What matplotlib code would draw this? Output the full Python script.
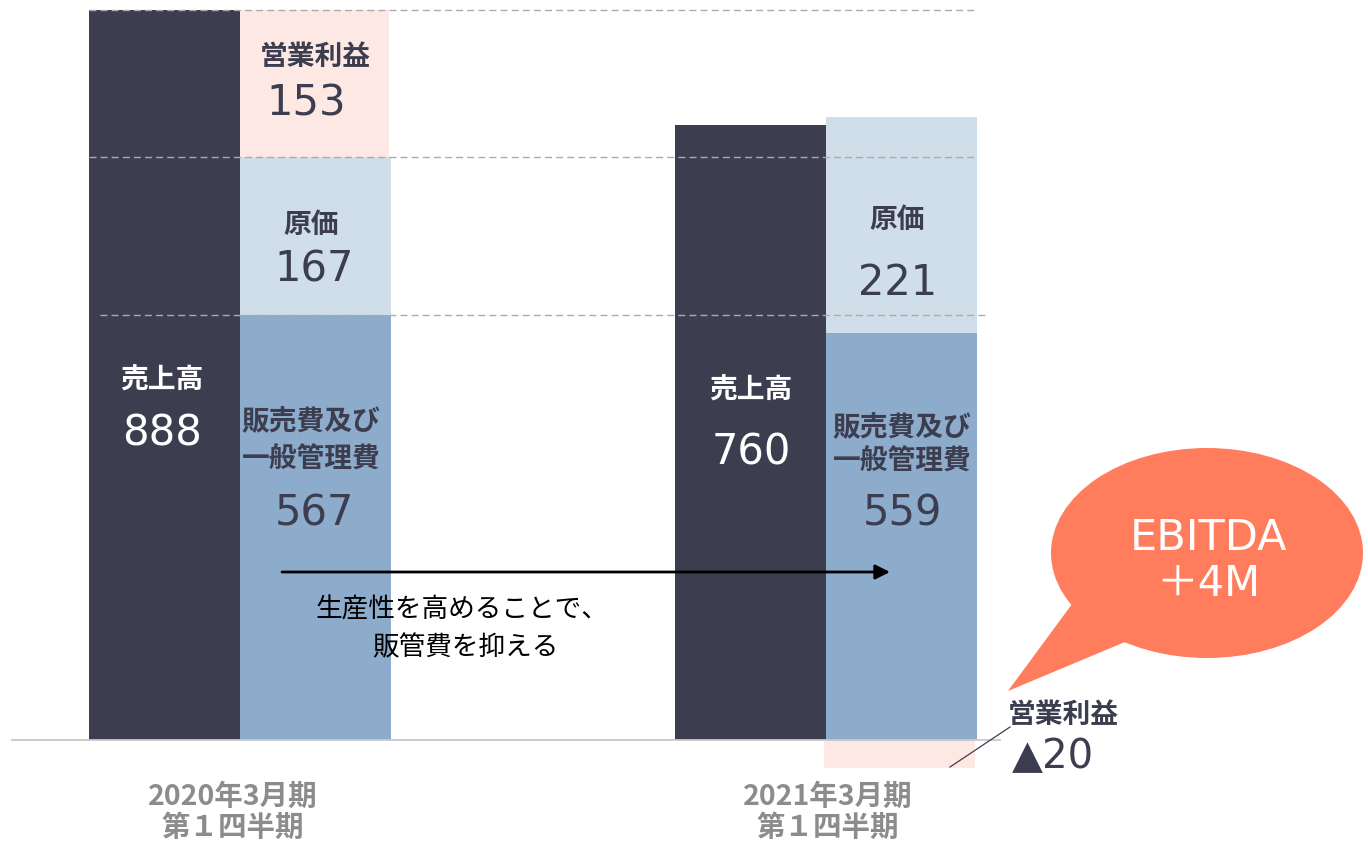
import matplotlib
matplotlib.use("Agg")
import matplotlib.pyplot as plt
import numpy as np
from matplotlib.patches import Ellipse, Polygon

# --- data -----------------------------------------------------------------
periods = ["2020年3月期", "2021年3月期"]
quarter = ["第１四半期", "第１四半期"]
sales = [888, 760]          # 売上高
sga = [567, 559]            # 販売費及び一般管理費
cogs = [167, 221]           # 原価
op_income = [153, -20]      # 営業利益

# bar heights as they are drawn on the slide (not to scale with the labels)
sales_drawn = [888, 748]
sga_drawn = [517, 495]
cogs_drawn = [192, 263]
op_drawn = [179, -34]

ebitda_text = "EBITDA\n＋4M"
note_lines = ["生産性を高めることで、", "販管費を抑える"]

DARK = "#3c3e50"
BLUE = "#8dabca"
LIGHT = "#d0deea"
PINK = "#fde8e4"
CORAL = "#ff7d5d"
GRAY = "#8c8c8c"
GRID = "#ababab"

CJK = ["Noto Sans CJK JP", "DejaVu Sans"]
NUM = ["DejaVu Sans", "Noto Sans CJK JP"]

W_PX, H_PX = 1368, 841
fig = plt.figure(figsize=(W_PX / 100, H_PX / 100), dpi=100)

# chart axes: group spacing 586 px, baseline at 740 px, 888 at 10 px
px_per_unit = 730 / 888
group_px = 586
ax = fig.add_axes([0, 0, 1, 1])
ax.set_xlim(-240 / group_px, (W_PX - 240) / group_px)
ax.set_ylim(-(H_PX - 740) / px_per_unit, 740 / px_per_unit)
ax.axis("off")

x = np.arange(len(periods))
w = 151 / group_px
sga_d = np.array(sga_drawn)
cogs_d = np.array(cogs_drawn)
op_d = np.array(op_drawn)
op_bottom = np.where(op_d > 0, sga_d + cogs_d, 0)

ax.bar(x - w / 2, sales_drawn, w, color=DARK, lw=0, zorder=2)
ax.bar(x + w / 2, sga_d, w, color=BLUE, lw=0, zorder=2)
ax.bar(x + w / 2, cogs_d, w, bottom=sga_d, color=LIGHT, lw=0, zorder=2)
ax.bar(x + w / 2 - 2 / group_px, op_d, w, bottom=op_bottom, color=PINK, lw=0, zorder=1)

# dashed guides at the 2020 stack boundaries
levels = [sga_d[0] + cogs_d[0] + op_d[0], sga_d[0] + cogs_d[0], sga_d[0]]
spans = [(89, 975), (89, 976), (100, 987)]
for lv, (a, b) in zip(levels, spans):
    ax.hlines(lv, (a - 240) / group_px, (b - 240) / group_px,
              color=GRID, lw=1, linestyles=(0, (5, 3)), zorder=3)
ax.axhline(0, xmin=12 / W_PX, xmax=1000 / W_PX, color="#c8c8c8", lw=1.3, zorder=3)

# overlay in pixel coordinates for the annotations
ov = fig.add_axes([0, 0, 1, 1])
ov.set_xlim(0, W_PX)
ov.set_ylim(H_PX, 0)
ov.axis("off")
ov.patch.set_alpha(0)

def label(xp, yp, s, size, color=DARK, family=CJK, weight="bold"):
    ov.text(xp, yp, s, ha="center", va="center", fontsize=size,
            color=color, family=family, fontweight=weight)

# 2020 bars
label(315, 57, "営業利益", 20)
label(306, 103, f"{op_income[0]}", 30, family=NUM, weight="normal")
label(311, 225, "原価", 20)
label(314, 270, f"{cogs[0]}", 30, family=NUM, weight="normal")
label(311, 422, "販売費及び", 20)
label(311, 460, "一般管理費", 20)
label(314, 514, f"{sga[0]}", 30, family=NUM, weight="normal")
label(162, 381, "売上高", 20, color="white")
label(162, 433, f"{sales[0]}", 30, color="white", family=NUM, weight="normal")

# 2021 bars
label(897, 220, "原価", 20)
label(898, 283, f"{cogs[1]}", 30, family=NUM, weight="normal")
label(751, 391, "売上高", 20, color="white")
label(751, 452, f"{sales[1]}", 30, color="white", family=NUM, weight="normal")
label(902, 428, "販売費及び", 20)
label(902, 462, "一般管理費", 20)
label(902, 514, f"{sga[1]}", 30, family=NUM, weight="normal")
label(1063, 715, "営業利益", 20)
label(1053, 757, f"▲{abs(op_income[1])}", 29, family=NUM, weight="normal")
ov.plot([950, 1010], [767, 727], color=DARK, lw=0.9)

# period labels
for cx, p, q in zip([233, 828], periods, quarter):
    label(cx, 797, p, 20.5, color=GRAY)
    label(cx, 828, q, 20.5, color=GRAY)

# productivity arrow and note
ov.annotate("", xy=(890, 572), xytext=(282, 572),
            arrowprops=dict(arrowstyle="-|>", color="black", lw=2,
                            mutation_scale=22, shrinkA=0, shrinkB=0))
label(462, 610, note_lines[0], 19.2, color="black", weight="normal")
label(465, 648, note_lines[1], 19.2, color="black", weight="normal")

# EBITDA speech bubble
ov.add_patch(Ellipse((1207, 553), 312, 210, color=CORAL, lw=0))
ov.add_patch(Polygon([(1075, 600), (1008, 691), (1125, 642), (1160, 610)],
                     closed=True, color=CORAL, lw=0))
e1, e2 = ebitda_text.split("\n")
label(1208, 538, e1, 31, color="white", family=NUM, weight="normal")
label(1208, 584, e2, 30, color="white", family=NUM, weight="normal")

fig.savefig("out.png", dpi=100)
